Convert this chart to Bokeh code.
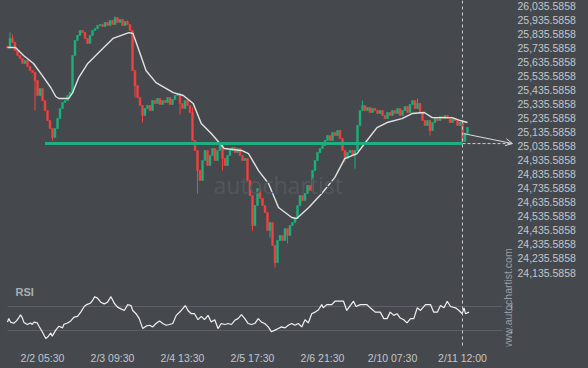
import math
from bokeh.plotting import figure
from bokeh.models import (ColumnDataSource, Range1d, FixedTicker, Span, Label,
                          Arrow, OpenHead, NumeralTickFormatter)
from bokeh.embed import file_html
from bokeh.resources import INLINE

# ---------------- data ----------------
first_open = 25745
closes = [
    25737, 25801, 25772, 25715, 25680, 25658, 25623, 25644, 25602, 25573,
    25559, 25502, 25395, 25445, 25359, 25288, 25217, 25160, 25096, 25160,
    25231, 25303, 25345, 25359, 25395, 25416, 25680, 25787, 25822, 25858,
    25843, 25801, 25765, 25822, 25858, 25872, 25893, 25900, 25886, 25915,
    25893, 25929, 25900, 25950, 25915, 25936, 25893, 25922, 25900, 25858,
    25573, 25466, 25381, 25324, 25253, 25303, 25324, 25288, 25359, 25338,
    25374, 25331, 25359, 25345, 25381, 25331, 25367, 25395, 25409, 25338,
    25303, 25359, 25324, 25274, 25075, 25004, 24861, 24790, 24932, 25004,
    24897, 24968, 25018, 24932, 25004, 25039, 24947, 24897, 24968, 25004,
    25025, 24989, 25018, 24968, 24932, 24947, 24790, 24683, 24470, 24612,
    24733, 24662, 24612, 24562, 24434, 24491, 24327, 24206, 24363, 24399,
    24363, 24448, 24399, 24470, 24491, 24520, 24612, 24683, 24648, 24698,
    24755, 24719, 24861, 24932, 24989, 25018, 25039, 25075, 25110, 25075,
    25132, 25110, 25146, 25089, 25004, 24947, 24989, 25004, 24968, 25004,
    25182, 25288, 25324, 25288, 25310, 25274, 25303, 25288, 25267, 25288,
    25253, 25231, 25274, 25253, 25288, 25267, 25303, 25253, 25288, 25317,
    25274, 25331, 25359, 25303, 25338, 25274, 25217, 25182, 25217, 25146,
    25203, 25239, 25217, 25246, 25231, 25253, 25231, 25203, 25231, 25217,
    25182, 25203, 25068, 25125, 25167,
]
# notable wick extremes (candle index -> price)
wick_highs = {1: 25843, 2: 25830, 43: 25957, 48: 25929, 74: 25310,
              142: 25359, 164: 25374}
wick_lows = {11: 25288, 18: 25075, 51: 25381, 54: 25203, 69: 25260,
             76: 24698, 86: 24861, 98: 24434, 105: 24384, 107: 24171,
             112: 24342, 135: 24918, 139: 24875, 169: 25110}

ma_idx = [0.0, 3.2, 6.4, 10.4, 13.3, 17.3, 19.3, 20.5, 24.5, 26.1, 28.5, 32.1,
          34.5, 37.3, 42.2, 48.6, 50.2, 52.6, 55.4, 59.4, 66.3, 70.3, 74.3,
          77.5, 81.5, 86.7, 93.6, 96.4, 100.4, 104.4, 108.4, 113.7, 115.7,
          120.5, 125.7, 130.9, 134.9, 139.8, 143.8, 147.8, 151.8, 157.8,
          161.8, 166.7, 169.9, 173.9, 177.9, 181.1, 184.0]
ma_val = [25737, 25737, 25680, 25623, 25552, 25452, 25388, 25374, 25374, 25416,
          25523, 25623, 25665, 25715, 25801, 25843, 25836, 25715, 25573, 25487,
          25416, 25395, 25338, 25196, 25125, 25018, 25004, 24982, 24861, 24769,
          24598, 24527, 24520, 24598, 24698, 24811, 24946, 24982, 25075, 25167,
          25203, 25231, 25267, 25274, 25238, 25238, 25238, 25217, 25203]

rsi_idx = [0, 0.5, 1.2, 2.5, 3.6, 4.6, 5.2, 5.9, 6.6, 7.9, 9.2, 9.9, 10.6, 11.9,
           12.6, 13.9, 15.3, 16.2, 17.3, 17.9, 19.3, 20.6, 22.0, 22.6, 24.0,
           25.3, 26.6, 28.0, 29.3, 30.7, 31.7, 33.1, 34.0, 34.9, 36.0, 37.3,
           38.7, 40.0, 41.4, 42.7, 44.0, 45.4, 46.7, 48.1, 49.4, 50.1, 51.4,
           52.7, 54.1, 55.4, 56.8, 58.1, 59.4, 60.8, 62.1, 63.5, 64.8, 66.1,
           67.5, 69.5, 71.1, 72.2, 73.5, 74.8, 76.2, 77.5, 78.8, 80.2, 81.5,
           82.9, 84.2, 85.5, 86.9, 88.2, 89.6, 90.9, 92.2, 93.6, 94.9, 96.3,
           97.6, 98.9, 100.3, 101.6, 102.9, 104.3, 105.6, 107.0, 108.3, 109.6,
           111.0, 112.3, 113.7, 115.0, 116.3, 117.7, 119.0, 120.3, 121.7,
           123.0, 124.4, 125.7, 126.3, 127.7, 129.7, 131.0, 132.4, 134.4,
           135.7, 137.1, 138.4, 139.4, 141.1, 143.8, 145.1, 147.1, 149.1,
           150.5, 151.8, 153.1, 154.5, 155.8, 157.1, 158.5, 159.8, 161.2,
           162.5, 163.9, 165.2, 167.2, 169.2, 170.5, 171.9, 173.2, 174.6,
           175.9, 177.2, 179.2, 180.6, 181.9, 182.6, 183.2, 184.6]
rsi_val = [47, 50, 47, 46, 48, 51, 53, 50.7, 46.6, 45, 46.3, 45, 47, 46.3,
           43.6, 39, 33.4, 34.8, 38, 35.3, 40.3, 43.6, 42.2, 45.2, 46.3,
           48, 51.2, 51.8, 55.3, 60, 61.6, 62.7, 65, 68.2, 67, 63.6,
           62.2, 63.6, 68.2, 62.7, 59.5, 58, 56.7, 61.6, 60.8, 56.7, 54,
           49.9, 41.6, 43.6, 44.4, 43, 45.8, 48, 45.8, 44.4, 45, 45.8,
           52.6, 56.7, 60.8, 56.7, 54, 54, 49, 51.8, 49, 52.6, 47,
           49, 41.6, 45.8, 45, 45.8, 45, 48.5, 49.9, 53.2, 49.9, 45.8,
           45, 45.8, 49.9, 47, 45.8, 43, 38.9, 40.3, 41.6, 43,
           42.2, 44.4, 45.8, 44.4, 45.8, 43, 49, 46.3, 54,
           55.3, 57.3, 61.6, 58.9, 61.6, 61.6, 64.4, 64.4, 64.4,
           56.7, 60.8, 64.4, 60, 61.6, 61.6, 58.9, 55.3, 55.3,
           49.9, 49.9, 55.3, 52.6, 54, 50.4, 49, 46.3, 49.9,
           49.9, 58.9, 56.7, 61.6, 61.6, 55.3, 55.3, 60.8, 58.9,
           64.4, 60, 58.9, 56.7, 54, 58.9, 54, 55.3]
rsi_levels = [60, 40]
rsi_level_labels = ["60", "40"]

support_level = 25053
support_start = 15
signal_idx = 182          # 2/11 12:00
forecast_idx = 202
forecast_start_price = 25124

price_ticks = [24135.5858, 24235.5858, 24335.5858, 24435.5858, 24535.5858,
               24635.5858, 24735.5858, 24835.5858, 24935.5858, 25035.5858,
               25135.5858, 25235.5858, 25335.5858, 25435.5858, 25535.5858,
               25635.5858, 25735.5858, 25835.5858, 25935.5858, 26035.5858]
time_ticks = [14, 42, 70, 98, 126, 154, 182]
time_labels = ["2/2 05:30", "2/3 09:30", "2/4 13:30", "2/5 17:30",
               "2/6 21:30", "2/10 07:30", "2/11 12:00"]

# ---------------- styles ----------------
BG = "#45494e"
TXT = "#c3c6ca"
UP = "#1bb27b"
DOWN = "#f4403f"
FONT = "Liberation Sans"

opens = [first_open] + closes[:-1]
idx = list(range(len(closes)))
colors = [UP if c >= o else DOWN for o, c in zip(opens, closes)]
src = ColumnDataSource(dict(
    x=idx,
    top=[max(o, c) for o, c in zip(opens, closes)],
    bottom=[min(o, c) for o, c in zip(opens, closes)],
    color=colors,
))
wick_src = ColumnDataSource(dict(
    x=idx,
    hi=[wick_highs.get(i, max(o, c)) for i, (o, c) in enumerate(zip(opens, closes))],
    lo=[wick_lows.get(i, min(o, c)) for i, (o, c) in enumerate(zip(opens, closes))],
    color=colors,
))

p = figure(width=588, height=368, x_range=Range1d(-2.8, 202.0),
           y_range=Range1d(23609.0, 26071.17), y_axis_location="right",
           output_backend="svg", toolbar_location=None,
           min_border_left=0, min_border_right=76, min_border_top=0,
           min_border_bottom=22, background_fill_color=BG,
           border_fill_color=BG, outline_line_color=None)
p.extra_y_ranges = {"rsi": Range1d(26.667, 315.0)}
p.xgrid.visible = False
p.ygrid.visible = False

for ax in (p.xaxis[0], p.yaxis[0]):
    ax.axis_line_color = None
    ax.major_tick_line_color = None
    ax.minor_tick_line_color = None
    ax.major_tick_out = 0
    ax.major_tick_in = 0
    ax.major_label_text_color = TXT
    ax.major_label_text_font = FONT
    ax.major_label_text_font_size = "10.5px"
    ax.major_label_standoff = 5

p.yaxis.ticker = FixedTicker(ticks=price_ticks)
p.yaxis.formatter = NumeralTickFormatter(format="0,0.0000")
p.xaxis.ticker = FixedTicker(ticks=time_ticks)
p.xaxis.major_label_overrides = dict(zip(time_ticks, time_labels))

# watermark
p.add_layout(Label(x=82.4, y=24755, text="autochartist", text_font="Open Sans",
                   text_font_size="23px", text_color="#53575c",
                   text_baseline="middle", text_align="left"))

# RSI grid lines
p.segment(x0=[0] * 2, x1=[198] * 2, y0=rsi_levels, y1=rsi_levels,
          y_range_name="rsi", line_color="#5c6066", line_width=1)

# candles
p.segment(x0="x", x1="x", y0="lo", y1="hi", line_color="color",
          line_width=1, source=wick_src)
p.vbar(x="x", width=0.75, top="top", bottom="bottom", fill_color="color",
       line_color="color", line_width=0.5, source=src)

# moving average
p.line(ma_idx, ma_val, line_color="#e2e2e2", line_width=1.4)

# support line
p.segment(x0=[support_start], x1=[signal_idx], y0=[support_level],
          y1=[support_level], line_color="#1fae80", line_width=3)
p.segment(x0=[signal_idx], x1=[forecast_idx], y0=[support_level],
          y1=[support_level], line_color="#cfcfcf", line_width=1,
          line_dash="3 2")
p.add_layout(Arrow(end=OpenHead(size=7, line_color="#dcdcdc", line_width=1),
                   x_start=signal_idx + 0.4, y_start=forecast_start_price,
                   x_end=forecast_idx, y_end=support_level,
                   line_color="#dcdcdc", line_width=1))

# vertical dashed line
p.add_layout(Span(location=signal_idx, dimension="height", line_color="#cfcfcf",
                  line_width=1, line_dash="3 3"))

# RSI line
p.line(rsi_idx, rsi_val, y_range_name="rsi", line_color="#f0f0f0",
       line_width=1.2)

p.add_layout(Label(x=3.2, y=72.5, y_range_name="rsi", text="RSI",
                   text_font=FONT, text_font_size="11px",
                   text_font_style="bold", text_color="#a9aeb4",
                   text_baseline="middle"))
for lv, lt in zip(rsi_levels, rsi_level_labels):
    p.add_layout(Label(x=201.2, y=lv, y_range_name="rsi", text=lt,
                       text_font=FONT, text_font_size="10.5px",
                       text_color=TXT, text_baseline="middle",
                       text_align="left"))

p.add_layout(Label(x=200.0, y=23581, text="www.autochartist.com",
                   angle=math.pi / 2, text_font=FONT, text_font_size="10.5px",
                   text_color="#9a9ea3", text_baseline="middle",
                   text_align="left"))

html = file_html(p, INLINE, title="chart")
html = html.replace("</head>", "<style>html,body{margin:0;padding:0;"
                    "background:#45494e;overflow:hidden}</style></head>", 1)
open("out.html", "w").write(html)
